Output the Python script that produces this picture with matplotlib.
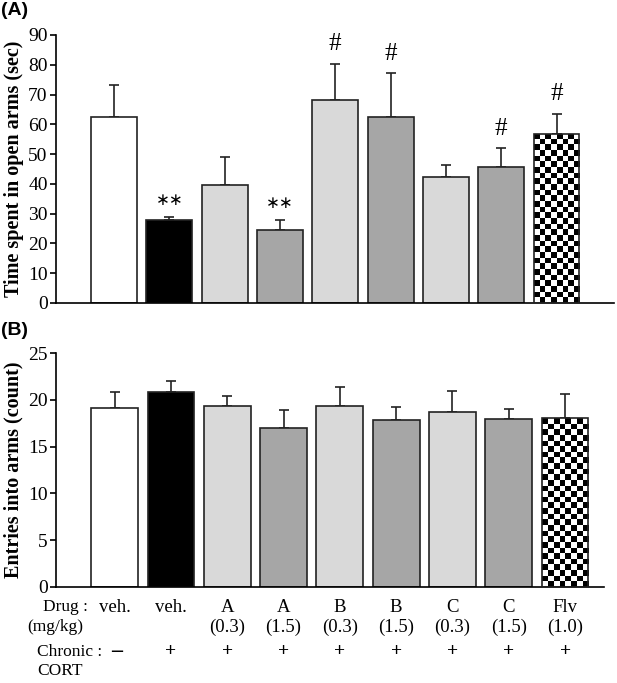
import matplotlib.pyplot as plt
import numpy as np
from matplotlib.transforms import blended_transform_factory

# data
time_open = [62.3, 27.8, 39.5, 24.5, 68.0, 62.5, 42.2, 45.5, 56.9]
time_err_top = [73.3, 28.8, 49.0, 27.7, 80.4, 77.2, 46.2, 51.9, 63.5]
time_marks = ["", "**", "", "**", "#", "#", "", "#", "#"]

entries = [19.1, 20.9, 19.4, 17.0, 19.4, 17.9, 18.7, 18.0, 18.1]
entries_err_top = [20.9, 22.0, 20.4, 18.9, 21.4, 19.2, 21.0, 19.0, 20.6]

drug = ["veh.", "veh.", "A", "A", "B", "B", "C", "C", "Flv"]
dose = ["", "", "(0.3)", "(1.5)", "(0.3)", "(1.5)", "(0.3)", "(1.5)", "(1.0)"]
cort = ["\u2212", "+", "+", "+", "+", "+", "+", "+", "+"]

colors = ["white", "black", "#d9d9d9", "#a6a6a6", "#d9d9d9", "#a6a6a6",
          "#d9d9d9", "#a6a6a6", "checker"]

serif = "Liberation Serif"
plt.rcParams["font.family"] = serif

fig = plt.figure(figsize=(6.17, 6.83), dpi=100)
ax_a = fig.add_axes([0.0908, 0.5564, 0.9044, 0.3924])
ax_b = fig.add_axes([0.0908, 0.141, 0.888, 0.3417])


def checker(ax, bar, cell_px=6):
    # fill a bar with a black/white checkerboard clipped to the bar
    x0, y0 = bar.get_x(), bar.get_y()
    x1, y1 = x0 + bar.get_width(), y0 + bar.get_height()
    p0 = ax.transData.transform((x0, y0))
    p1 = ax.transData.transform((x1, y1))
    nx = max(1, int(round((p1[0] - p0[0]) / cell_px)))
    ny = max(1, int(round((p1[1] - p0[1]) / cell_px)))
    board = (np.add.outer(np.arange(ny), np.arange(nx)) % 2).astype(float)
    im = ax.imshow(board, cmap="gray", extent=(x0, x1, y0, y1),
                   interpolation="nearest", aspect="auto", zorder=2.5)
    im.set_clip_path(bar)


def draw(ax, vals, tops, xlim, ylim, yticks):
    x = np.arange(len(vals))
    fc = ["white" if c == "checker" else c for c in colors]
    bars = ax.bar(x, vals, width=0.83, color=fc, edgecolor="#222222",
                  linewidth=1.2, zorder=2)
    up = np.array(tops) - np.array(vals)
    ax.errorbar(x, vals, yerr=[np.zeros(len(vals)), up], fmt="none",
                ecolor="#222222", elinewidth=1.2, capsize=3.5, capthick=1.2,
                zorder=1)
    ax.set_xlim(*xlim)
    ax.set_autoscale_on(False)
    for b, c in zip(bars, colors):
        if c == "checker":
            checker(ax, b)
            b.set_facecolor("none")
            b.set_zorder(3)
    ax.set_ylim(*ylim)
    ax.set_yticks(yticks)
    ax.spines["top"].set_visible(False)
    ax.spines["right"].set_visible(False)
    ax.spines["left"].set_linewidth(1.2)
    ax.spines["bottom"].set_linewidth(1.2)
    ax.set_xticks([])
    ax.tick_params(axis="y", direction="out", length=4, width=1.2,
                   labelsize=14, pad=2)
    return x


x_a = draw(ax_a, time_open, time_err_top, (-1.05, 9.04), (0, 90),
           range(0, 91, 10))
ax_a.set_ylabel("Time spent in open arms (sec)", fontsize=14.5,
                fontweight="bold", labelpad=3)
for xi, top, m in zip(x_a, time_err_top, time_marks):
    if m == "**":
        ax_a.annotate("\u2217\u2217", (xi, top), xytext=(0, 12.5),
                      textcoords="offset points", ha="center", va="center",
                      fontsize=12, family="DejaVu Sans")
    elif m:
        ax_a.annotate(m, (xi, top), xytext=(0, 14), textcoords="offset points",
                      ha="center", va="center", fontsize=18)

x_b = draw(ax_b, entries, entries_err_top, (-1.04, 8.69), (0, 25),
           range(0, 26, 5))
ax_b.set_ylabel("Entries into arms (count)", fontsize=14.5,
                fontweight="bold", labelpad=3)

fig.text(0.002, 0.997, "(A)", family="Liberation Sans", fontweight="bold",
         fontsize=14, ha="left", va="top")
fig.text(0.002, 0.528, "(B)", family="Liberation Sans", fontweight="bold",
         fontsize=14, ha="left", va="top")

# group labels under panel B
tr = blended_transform_factory(ax_b.transData, fig.transFigure)
H = 683.0
for xi, d, s, c in zip(x_b, drug, dose, cort):
    ax_b.text(xi, 1 - 607 / H, d, transform=tr, ha="center", va="center",
              fontsize=13.5)
    ax_b.text(xi, 1 - 627 / H, s, transform=tr, ha="center", va="center",
              fontsize=13.5)
    if c == "+":
        ax_b.text(xi, 1 - 652 / H, c, transform=tr, ha="center", va="center",
                  fontsize=14, fontweight="bold")
    else:
        ax_b.text(xi + 0.03, 1 - 652 / H, c, transform=tr, ha="center",
                  va="center", fontsize=13, family="DejaVu Sans")

fig.text(43 / 617, 1 - 607 / H, "Drug :", ha="left", va="center", fontsize=12.5)
fig.text(27 / 617, 1 - 627 / H, "(mg/kg)", ha="left", va="center", fontsize=12.5)
fig.text(37 / 617, 1 - 652 / H, "Chronic :", ha="left", va="center", fontsize=12.5)
fig.text(37 / 617, 1 - 671 / H, "CORT", ha="left", va="center", fontsize=12.5)

fig.savefig("out.png", dpi=100)
